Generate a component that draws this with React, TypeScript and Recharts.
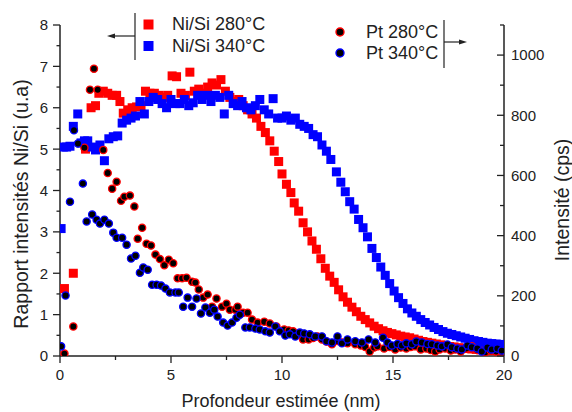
import React from 'react';
import { ScatterChart, Scatter, XAxis, YAxis } from 'recharts';

const FONT = '"Liberation Sans", Arial, Helvetica, sans-serif';
const AXIS = '#222';

// Ni/Si 280°C (left axis, u.a)
const niSi280X = [0.2, 0.6, 1.15, 1.4, 1.6, 1.75, 1.95, 2.15, 2.35, 2.55, 2.7, 2.85, 3.05, 3.25, 3.45, 3.65, 3.85, 4.05, 4.25, 4.45, 4.65, 4.85, 5.05, 5.25, 5.45, 5.65, 5.85, 6.05, 6.25, 6.45, 6.65, 6.85, 7.05, 7.25, 7.45, 7.65, 7.85, 8.05, 8.25, 8.45, 8.65, 8.85, 9.05, 9.25, 9.45, 9.65, 9.85, 10.0, 10.2, 10.4, 10.55, 10.75, 10.95, 11.15, 11.35, 11.55, 11.75, 11.95, 12.15, 12.35, 12.55, 12.75, 12.95, 13.15, 13.35, 13.55, 13.75, 13.95, 14.15, 14.35, 14.55, 14.75, 14.95, 15.15, 15.35, 15.55, 15.75, 15.95, 16.15, 16.35, 16.55, 16.75, 16.95, 17.15, 17.35, 17.55, 17.75, 17.95, 18.15, 18.35, 18.55, 18.75, 18.95, 19.15, 19.35, 19.55, 19.75, 19.95];
const niSi280Y = [1.63, 2.0, 5.0, 6.0, 6.05, 6.35, 6.4, 6.35, 6.3, 6.3, 6.15, 5.87, 5.95, 6.0, 6.02, 6.05, 6.4, 6.35, 6.35, 6.3, 6.25, 6.3, 6.77, 6.75, 6.35, 6.3, 6.86, 6.4, 6.45, 6.35, 6.5, 6.6, 6.55, 6.68, 6.4, 6.25, 6.15, 6.2, 6.05, 5.95, 5.85, 5.75, 5.55, 5.4, 5.2, 4.95, 4.7, 4.4, 4.15, 3.95, 3.7, 3.5, 3.22, 3.0, 2.78, 2.58, 2.35, 2.12, 1.93, 1.78, 1.6, 1.43, 1.3, 1.18, 1.07, 0.96, 0.88, 0.8, 0.72, 0.66, 0.61, 0.57, 0.54, 0.51, 0.48, 0.46, 0.44, 0.41, 0.38, 0.35, 0.33, 0.31, 0.29, 0.27, 0.25, 0.23, 0.22, 0.2, 0.19, 0.18, 0.17, 0.16, 0.15, 0.14, 0.13, 0.13, 0.12, 0.12];

// Ni/Si 340°C (left axis, u.a)
const niSi340X = [0.05, 0.15, 0.3, 0.45, 0.6, 0.8, 0.95, 1.1, 1.25, 1.45, 1.6, 1.8, 2.0, 2.2, 2.4, 2.6, 2.8, 3.0, 3.2, 3.4, 3.6, 3.8, 4.0, 4.2, 4.4, 4.6, 4.8, 5.0, 5.2, 5.4, 5.6, 5.8, 6.0, 6.2, 6.4, 6.6, 6.8, 7.0, 7.2, 7.4, 7.6, 7.8, 8.0, 8.2, 8.4, 8.6, 8.8, 9.0, 9.2, 9.4, 9.6, 9.8, 10.0, 10.2, 10.4, 10.6, 10.8, 11.0, 11.2, 11.4, 11.6, 11.8, 12.0, 12.2, 12.45, 12.65, 12.85, 13.05, 13.25, 13.45, 13.65, 13.85, 14.05, 14.25, 14.45, 14.65, 14.85, 15.05, 15.25, 15.45, 15.65, 15.85, 16.05, 16.25, 16.45, 16.65, 16.85, 17.05, 17.25, 17.45, 17.65, 17.85, 18.05, 18.25, 18.45, 18.65, 18.85, 19.05, 19.25, 19.45, 19.65, 19.85];
const niSi340Y = [3.08, 5.05, 5.05, 5.07, 5.55, 5.85, 5.15, 5.2, 5.2, 5.05, 4.98, 5.1, 4.72, 5.25, 5.3, 5.32, 5.63, 5.7, 5.75, 5.8, 6.15, 5.85, 6.15, 6.25, 6.2, 6.1, 6.0, 6.2, 6.1, 6.1, 6.2, 6.05, 6.12, 6.3, 6.2, 6.3, 6.15, 6.3, 6.25, 5.85, 6.3, 6.1, 6.05, 6.15, 6.0, 5.95, 6.05, 6.2, 5.95, 5.85, 6.22, 5.75, 5.75, 5.8, 5.7, 5.75, 5.6, 5.55, 5.5, 5.35, 5.3, 5.1, 4.95, 4.75, 4.45, 4.2, 3.97, 3.73, 3.55, 3.3, 3.1, 2.88, 2.6, 2.38, 2.15, 1.95, 1.75, 1.57, 1.41, 1.27, 1.14, 1.04, 0.96, 0.88, 0.81, 0.75, 0.69, 0.64, 0.59, 0.55, 0.52, 0.49, 0.46, 0.43, 0.4, 0.37, 0.35, 0.33, 0.31, 0.3, 0.29, 0.28];

// Pt 280°C (right axis, cps)
const pt280X = [0.2, 0.6, 1.1, 1.35, 1.53, 1.7, 1.95, 2.15, 2.35, 2.55, 2.75, 2.9, 3.15, 3.35, 3.5, 3.7, 3.9, 4.1, 4.3, 4.5, 4.7, 4.9, 5.1, 5.3, 5.5, 5.7, 5.95, 6.1, 6.25, 6.45, 6.65, 6.85, 7.05, 7.3, 7.5, 7.65, 7.9, 8.0, 8.25, 8.45, 8.65, 8.9, 9.2, 9.45, 9.75, 10.1, 10.3, 10.5, 10.75, 10.95, 11.2, 11.4, 11.6, 11.8, 12.0, 12.25, 12.5, 12.7, 12.95, 13.3, 13.55, 13.75, 13.95, 14.15, 14.3, 14.6, 14.85, 15.1, 15.35, 15.6, 15.8, 16.0, 16.25, 16.5, 16.7, 16.9, 17.1, 17.35, 17.6, 17.8, 18.05, 18.3, 18.55, 18.8, 19.15, 19.4, 19.65, 19.9];
const pt280Y = [8, 98, 692, 885, 955, 885, 685, 608, 556, 579, 516, 529, 533, 497, 390, 426, 373, 367, 337, 322, 302, 320, 308, 258, 258, 260, 247, 244, 221, 194, 204, 164, 191, 164, 174, 154, 154, 164, 144, 144, 121, 111, 114, 108, 98, 88, 85, 82, 70, 55, 55, 60, 65, 55, 48, 39, 50, 45, 42, 39, 35, 30, 15, 28, 32, 25, 30, 22, 28, 25, 30, 32, 22, 25, 20, 15, 22, 25, 18, 22, 15, 25, 32, 20, 12, 18, 15, 15];

// Pt 340°C (right axis, cps)
const pt340X = [0.05, 0.25, 0.45, 0.63, 0.81, 1.03, 1.2, 1.45, 1.65, 1.8, 2.0, 2.2, 2.4, 2.55, 2.8, 3.0, 3.2, 3.4, 3.6, 3.75, 3.95, 4.15, 4.35, 4.55, 4.75, 4.95, 5.2, 5.35, 5.55, 5.75, 5.95, 6.15, 6.35, 6.55, 6.75, 6.95, 7.1, 7.35, 7.55, 7.75, 7.95, 8.1, 8.35, 8.55, 8.8, 9.0, 9.25, 9.45, 9.7, 9.9, 10.15, 10.35, 10.6, 10.8, 11.0, 11.25, 11.5, 11.8, 12.0, 12.25, 12.5, 12.7, 12.95, 13.3, 13.6, 13.9, 14.2, 14.55, 14.75, 14.95, 15.2, 15.4, 15.6, 15.85, 16.05, 16.3, 16.55, 16.75, 17.0, 17.2, 17.45, 17.65, 17.9, 18.1, 18.35, 18.55, 18.8, 19.0, 19.25, 19.45, 19.7, 19.9];
const pt340Y = [32, 201, 513, 750, 706, 573, 447, 470, 453, 440, 453, 440, 410, 393, 393, 370, 324, 333, 277, 294, 287, 237, 237, 234, 224, 211, 211, 211, 164, 194, 164, 191, 141, 161, 144, 154, 131, 111, 101, 111, 127, 137, 95, 95, 91, 88, 82, 78, 98, 82, 68, 72, 65, 78, 75, 72, 65, 65, 49, 45, 65, 42, 55, 49, 45, 55, 45, 61, 45, 35, 40, 35, 42, 39, 48, 45, 40, 39, 35, 32, 38, 29, 25, 22, 35, 29, 25, 15, 28, 22, 25, 18];

const xTicks = [0, 2.5, 5, 7.5, 10, 12.5, 15, 17.5, 20];
const leftTicks = [0, 0.5, 1, 1.5, 2, 2.5, 3, 3.5, 4, 4.5, 5, 5.5, 6, 6.5, 7, 7.5, 8];
const rightTicks = [0, 100, 200, 300, 400, 500, 600, 700, 800, 900, 1000, 1100];

const toPoints = (xs: number[], ys: number[]) => xs.map((x, i) => ({ x, y: ys[i] }));

const sq = (color: string) => (p: any) => (
  <rect x={p.cx - 4.5} y={p.cy - 4.5} width={9} height={9} fill={color} />
);
const dot = (color: string) => (p: any) => (
  <circle cx={p.cx} cy={p.cy} r={3.6} fill="#000" stroke={color} strokeWidth={1.3} />
);

const BottomTick = (props: any) => {
  const { x, y, payload } = props;
  const v = payload.value;
  const major = v % 5 === 0;
  return (
    <g>
      <line x1={x} x2={x} y1={y} y2={y + (major ? 7 : 4)} stroke={AXIS} strokeWidth={1.3} />
      {major && (
        <text x={x} y={y + 24} textAnchor="middle" fontSize={15} fontFamily={FONT} fill="#222">{v}</text>
      )}
    </g>
  );
};

const LeftTick = (props: any) => {
  const { x, y, payload } = props;
  const v = payload.value;
  const major = Number.isInteger(v);
  return (
    <g>
      <line x1={x} x2={x - (major ? 7 : 3.5)} y1={y} y2={y} stroke={AXIS} strokeWidth={1.3} />
      {major && (
        <text x={x - 12} y={y} dy="0.36em" textAnchor="end" fontSize={15} fontFamily={FONT} fill="#222">{v}</text>
      )}
    </g>
  );
};

const RightTick = (props: any) => {
  const { x, y, payload } = props;
  const v = payload.value;
  const major = v % 200 === 0;
  return (
    <g>
      <line x1={x} x2={x - (major ? 7 : 4)} y1={y} y2={y} stroke={AXIS} strokeWidth={1.3} />
      {major && (
        <text x={x + 7} y={y} dy="0.36em" textAnchor="start" fontSize={15} fontFamily={FONT} fill="#222">{v}</text>
      )}
    </g>
  );
};

export default function App() {
  return (
    <div style={{ position: 'absolute', left: 0, top: 0, width: 572, height: 412, background: '#fff' }}>
      <ScatterChart width={572} height={412} margin={{ top: 25, right: 0, bottom: 0, left: 0 }}>
        <XAxis
          type="number"
          dataKey="x"
          domain={[0, 20]}
          ticks={xTicks}
          interval={0}
          height={56}
          tickSize={0}
          tickMargin={0}
          tickLine={false}
          tick={<BottomTick />}
          axisLine={{ stroke: AXIS, strokeWidth: 1.5 }}
          allowDataOverflow
        />
        <YAxis
          yAxisId="left"
          orientation="left"
          type="number"
          dataKey="y"
          domain={[0, 8]}
          ticks={leftTicks}
          interval={0}
          width={60}
          tickSize={0}
          tickMargin={0}
          tickLine={false}
          tick={<LeftTick />}
          axisLine={{ stroke: AXIS, strokeWidth: 1.5 }}
          allowDataOverflow
        />
        <YAxis
          yAxisId="right"
          orientation="right"
          type="number"
          dataKey="y"
          domain={[0, 1100]}
          ticks={rightTicks}
          interval={0}
          width={68}
          tickSize={0}
          tickMargin={0}
          tickLine={false}
          tick={<RightTick />}
          axisLine={{ stroke: AXIS, strokeWidth: 1.5 }}
          allowDataOverflow
        />
        <Scatter yAxisId="left" data={toPoints(niSi280X, niSi280Y)} shape={sq('#ff0000')} isAnimationActive={false} />
        <Scatter yAxisId="left" data={toPoints(niSi340X, niSi340Y)} shape={sq('#0000ff')} isAnimationActive={false} />
        <Scatter yAxisId="right" data={toPoints(pt280X, pt280Y)} shape={dot('#ff0000')} isAnimationActive={false} />
        <Scatter yAxisId="right" data={toPoints(pt340X, pt340Y)} shape={dot('#0000ff')} isAnimationActive={false} />
      </ScatterChart>
      <svg width={572} height={412} style={{ position: 'absolute', left: 0, top: 0, pointerEvents: 'none' }}>
        <g fontFamily={FONT} fill="#222">
          {/* left legend */}
          <line x1={135} x2={135} y1={13} y2={60} stroke={AXIS} strokeWidth={1.2} />
          <line x1={112} x2={135} y1={36} y2={36} stroke={AXIS} strokeWidth={1.2} />
          <polygon points="107,36 115,33.5 115,38.5" fill={AXIS} />
          <rect x={143.5} y={19.5} width={10} height={10} fill="#ff0000" />
          <rect x={143.5} y={41} width={10} height={10} fill="#0000ff" />
          <text x={172} y={24} dy="0.36em" fontSize={18}>Ni/Si 280°C</text>
          <text x={172} y={46} dy="0.36em" fontSize={18}>Ni/Si 340°C</text>
          {/* right legend */}
          <circle cx={340} cy={32} r={4} fill="#000" stroke="#ff0000" strokeWidth={1.4} />
          <circle cx={340} cy={53} r={4} fill="#000" stroke="#0000ff" strokeWidth={1.4} />
          <text x={366} y={32} dy="0.36em" fontSize={18}>Pt 280°C</text>
          <text x={366} y={53} dy="0.36em" fontSize={18}>Pt 340°C</text>
          <line x1={444} x2={444} y1={20} y2={68} stroke={AXIS} strokeWidth={1.2} />
          <line x1={444} x2={462} y1={42} y2={42} stroke={AXIS} strokeWidth={1.2} />
          <polygon points="467,42 459,39.5 459,44.5" fill={AXIS} />
          {/* axis titles */}
          <text x={281} y={407} textAnchor="middle" fontSize={18}>Profondeur estimée (nm)</text>
          <text transform="translate(27.5,204) rotate(-90)" textAnchor="middle" fontSize={19.5}>Rapport intensités Ni/Si (u.a)</text>
          <text transform="translate(569,200) rotate(-90)" textAnchor="middle" fontSize={19.5}>Intensité (cps)</text>
        </g>
      </svg>
    </div>
  );
}
